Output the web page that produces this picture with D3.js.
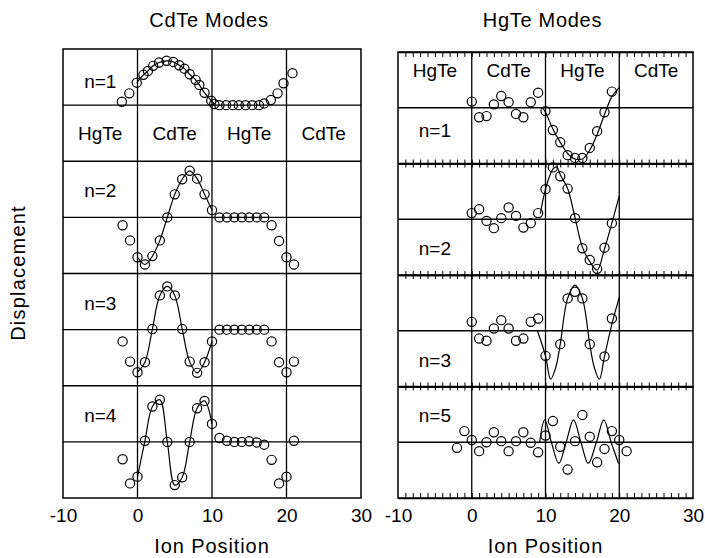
<!DOCTYPE html>
<html>
<head>
<meta charset="utf-8">
<script src="https://cdn.jsdelivr.net/npm/d3@7"></script>
<title>CdTe / HgTe Modes</title>
<style>
  body { margin: 0; background: #fff; }
  text { font-family: "Liberation Sans", Arial, Helvetica, sans-serif; fill: #000; }
</style>
</head>
<body>
<script>
// ion positions (integer sites)
var ionPos = [-2,-1,0,1,2,3,4,5,6,7,8,9,10,11,12,13,14,15,16,17,18,19,20,21];
var xTickLabels = [-10, 0, 10, 20, 30];
var minorTicks = [-9,-8,-7,-6,-5,-4,-3,-2,-1,0,1,2,3,4,5,6,7,8,9,10,11,12,13,14,15,16,17,18,19,20,21,22,23,24,25,26,27,28,29];
var layerEdges = [0, 10, 20];
var layerNames = ['HgTe', 'CdTe', 'HgTe', 'CdTe'];
var layerMids = [-5, 5, 15, 25];

// CdTe modes (left)
var cdN1Pos = [-2.1,-1.1,-0.1,0.8,1.4,2.1,2.9,3.9,4.8,5.6,6.3,7.0,7.8,8.3,9.0,9.9,10.3,11.0,11.9,12.8,13.6,14.5,15.4,16.3,17.0,17.9,18.8,19.6,20.8];
var cdN1 = [0.06,0.21,0.40,0.54,0.61,0.70,0.76,0.79,0.77,0.71,0.65,0.55,0.45,0.36,0.22,0.08,0.02,0,0,0,0,0,0,0,0.03,0.09,0.21,0.39,0.57];
var cdN2 = [-0.14,-0.41,-0.71,-0.84,-0.69,-0.41,0,0.41,0.68,0.83,0.69,0.41,0.13,0,0,0,0,0,0,0,-0.14,-0.42,-0.71,-0.84];
var cdN3 = [-0.21,-0.57,-0.76,-0.58,0.01,0.61,0.77,0.61,0.01,-0.57,-0.77,-0.58,-0.21,0,0,0,0,0,0,0,-0.21,-0.58,-0.76,-0.57];
var cdN4 = [-0.31,-0.74,-0.62,0.02,0.63,0.75,0,-0.77,-0.63,0,0.60,0.73,0.32,0.07,0.02,0,0,0.01,-0.01,-0.05,-0.32,-0.74,-0.62,0.02];

// HgTe modes (right), null = no ion drawn
var hgN1 = [null,null,0.11,-0.17,-0.15,0.06,0.21,0.10,-0.11,-0.17,0.10,0.27,-0.06,-0.40,-0.62,-0.85,-0.90,-0.90,-0.72,-0.42,-0.08,0.29,null,null];
var hgN2 = [null,null,0.11,0.18,-0.03,-0.16,0.02,0.21,0.06,-0.15,-0.07,0.11,0.54,0.93,0.77,0.55,0.02,-0.52,-0.73,-0.89,-0.51,-0.07,null,null];
var hgN3 = [null,null,0.16,-0.14,-0.18,0.04,0.19,0.04,-0.18,-0.14,0.16,0.22,-0.45,null,-0.24,0.58,0.70,0.58,-0.24,null,-0.46,0.22,null,null];
var hgN5 = [-0.10,0.20,0.04,-0.16,0,0.18,0.02,-0.16,0.02,0.18,-0.01,-0.18,0.12,0.38,-0.08,-0.49,0.02,0.49,0.10,-0.36,-0.12,0.20,0.04,-0.16];

// continuum curves for the HgTe modes
var hgN1LineX = [9.6,10,11,12,13,14,15,16,17,18,19,20];
var hgN1LineY = [0,-0.08,-0.38,-0.62,-0.82,-0.92,-0.92,-0.76,-0.48,-0.12,0.2,0.36];
var hgN2LineX = [9.3,10,11,11.5,12,13,14,15,16,17,18,19,20];
var hgN2LineY = [0.1,0.54,0.9,0.94,0.8,0.55,0.03,-0.5,-0.76,-0.91,-0.53,-0.07,0.42];
var hgN3LineX = [8.9,10,10.7,11.4,12,13,14,15,16,16.6,17.3,18,19,20];
var hgN3LineY = [0,-0.45,-0.87,-0.65,-0.24,0.58,0.82,0.58,-0.24,-0.65,-0.87,-0.46,0.12,0.6];
var hgN5LineX = [9.2,9.9,10.8,11.8,12.8,13.8,14.8,15.8,16.9,17.9,18.9,19.9];
var hgN5LineY = [0,0.4,0,-0.38,0,0.4,0,-0.38,0,0.4,0,-0.38];

function pairs(xs, ys) {
  return xs.map(function (d, i) { return [d, ys[i]]; })
    .filter(function (d) { return d[1] !== null; });
}

var svg = d3.select('body').append('svg')
  .attr('width', 705)
  .attr('height', 558);

var fontSize = 19;

var panels = [
  {
    title: 'CdTe Modes', x0: 63, x1: 361, y0: 49, y1: 498, ticks: false,
    regionRow: 0, regionV: -0.63,
    modes: [
      { name: 'n=1', pts: pairs(cdN1Pos, cdN1), labelV: 0.45 },
      { name: 'n=2', pts: pairs(ionPos, cdN2), labelV: 0.5 },
      { name: 'n=3', pts: pairs(ionPos, cdN3), labelV: 0.5 },
      { name: 'n=4', pts: pairs(ionPos, cdN4), labelV: 0.5 }
    ]
  },
  {
    title: 'HgTe Modes', x0: 398, x1: 693, y0: 52, y1: 498, ticks: true,
    regionRow: 0, regionV: 0.55,
    modes: [
      { name: 'n=1', pts: pairs(ionPos, hgN1), line: pairs(hgN1LineX, hgN1LineY), labelV: -0.38 },
      { name: 'n=2', pts: pairs(ionPos, hgN2), line: pairs(hgN2LineX, hgN2LineY), labelV: -0.5 },
      { name: 'n=3', pts: pairs(ionPos, hgN3), line: pairs(hgN3LineX, hgN3LineY), labelV: -0.5 },
      { name: 'n=5', pts: pairs(ionPos, hgN5), line: pairs(hgN5LineX, hgN5LineY), labelV: 0.5 }
    ]
  }
];

panels.forEach(function (p) {
  var g = svg.append('g');
  var x = d3.scaleLinear().domain([-10, 30]).range([p.x0, p.x1]);
  var rows = d3.scaleBand().domain(d3.range(p.modes.length)).range([p.y0, p.y1]);
  var bw = rows.bandwidth();

  // row dividers
  var dividers = d3.range(1, p.modes.length).map(function (i) { return rows(i); });
  g.selectAll('line.div').data(dividers).enter().append('line')
    .attr('x1', p.x0).attr('x2', p.x1)
    .attr('y1', function (d) { return d; }).attr('y2', function (d) { return d; })
    .attr('stroke', '#000').attr('stroke-width', 1.3);

  // layer boundaries
  g.selectAll('line.edge').data(layerEdges).enter().append('line')
    .attr('x1', function (d) { return x(d); }).attr('x2', function (d) { return x(d); })
    .attr('y1', p.y0).attr('y2', p.y1)
    .attr('stroke', '#000').attr('stroke-width', 1.3);

  if (p.ticks) {
    dividers.forEach(function (yy) {
      g.append('g').attr('transform', 'translate(0,' + yy + ')')
        .call(d3.axisTop(x).tickValues(minorTicks).tickSize(4).tickSizeOuter(0).tickFormat(''));
      g.append('g').attr('transform', 'translate(0,' + yy + ')')
        .call(d3.axisBottom(x).tickValues(minorTicks).tickSize(4).tickSizeOuter(0).tickFormat(''));
    });
    g.append('g').attr('transform', 'translate(0,' + p.y0 + ')')
      .call(d3.axisBottom(x).tickValues(minorTicks).tickSize(5).tickSizeOuter(0).tickFormat(''));
    g.append('g').attr('transform', 'translate(0,' + p.y1 + ')')
      .call(d3.axisTop(x).tickValues(minorTicks).tickSize(5).tickSizeOuter(0).tickFormat(''));
    g.selectAll('.tick line').attr('stroke-width', 1);
    g.selectAll('.domain').attr('stroke-width', 1.3);
  }

  p.modes.forEach(function (m, i) {
    var y = d3.scaleLinear().domain([-1, 1]).range([rows(i) + bw, rows(i)]);
    var mg = g.append('g');

    // zero line
    mg.append('line')
      .attr('x1', p.x0).attr('x2', p.x1)
      .attr('y1', y(0)).attr('y2', y(0))
      .attr('stroke', '#000').attr('stroke-width', 1.3);

    var linePts = m.line || m.pts.filter(function (d) { return d[0] >= -0.2 && d[0] <= 10.4; });
    mg.append('path')
      .datum(linePts)
      .attr('d', d3.line()
        .x(function (d) { return x(d[0]); })
        .y(function (d) { return y(d[1]); })
        .curve(d3.curveCatmullRom))
      .attr('fill', 'none')
      .attr('stroke', '#000')
      .attr('stroke-width', 1.2);

    mg.selectAll('circle').data(m.pts).enter().append('circle')
      .attr('cx', function (d) { return x(d[0]); })
      .attr('cy', function (d) { return y(d[1]); })
      .attr('r', 4.6)
      .attr('fill', 'none')
      .attr('stroke', '#000')
      .attr('stroke-width', 1.2);

    mg.append('text')
      .attr('x', x(-5)).attr('y', y(m.labelV) + 8)
      .attr('text-anchor', 'middle')
      .style('font-size', fontSize + 'px')
      .text(m.name);

    if (i === p.regionRow) {
      mg.selectAll('text.layer').data(layerNames).enter().append('text')
        .attr('x', function (d, k) { return x(layerMids[k]); })
        .attr('y', y(p.regionV))
        .attr('text-anchor', 'middle')
        .style('font-size', fontSize + 'px')
        .text(function (d) { return d; });
    }
  });

  // frame
  g.append('rect')
    .attr('x', p.x0).attr('y', p.y0)
    .attr('width', p.x1 - p.x0).attr('height', p.y1 - p.y0)
    .attr('fill', 'none').attr('stroke', '#000').attr('stroke-width', 1.5);

  // x tick labels (plain hyphen for negatives)
  var ax = g.append('g').attr('transform', 'translate(0,' + p.y1 + ')')
    .call(d3.axisBottom(x).tickValues(xTickLabels).tickSize(0).tickPadding(11)
      .tickFormat(function (d) { return String(d); }));
  ax.select('.domain').remove();
  ax.selectAll('text').style('font-size', fontSize + 'px')
    .style('font-family', '"Liberation Sans", Arial, sans-serif');

  g.append('text')
    .attr('x', (p.x0 + p.x1) / 2).attr('y', 553)
    .attr('text-anchor', 'middle')
    .style('font-size', '20px')
    .style('letter-spacing', '0.9px')
    .text('Ion Position');

  g.append('text')
    .attr('x', (p.x0 + p.x1) / 2 - 3).attr('y', 27)
    .attr('text-anchor', 'middle')
    .style('font-size', '20px')
    .style('letter-spacing', '0.7px')
    .text(p.title);
});

svg.append('text')
  .attr('transform', 'translate(25,273) rotate(-90)')
  .attr('text-anchor', 'middle')
  .style('font-size', '20px')
  .style('letter-spacing', '1.2px')
  .text('Displacement');
</script>
</body>
</html>
